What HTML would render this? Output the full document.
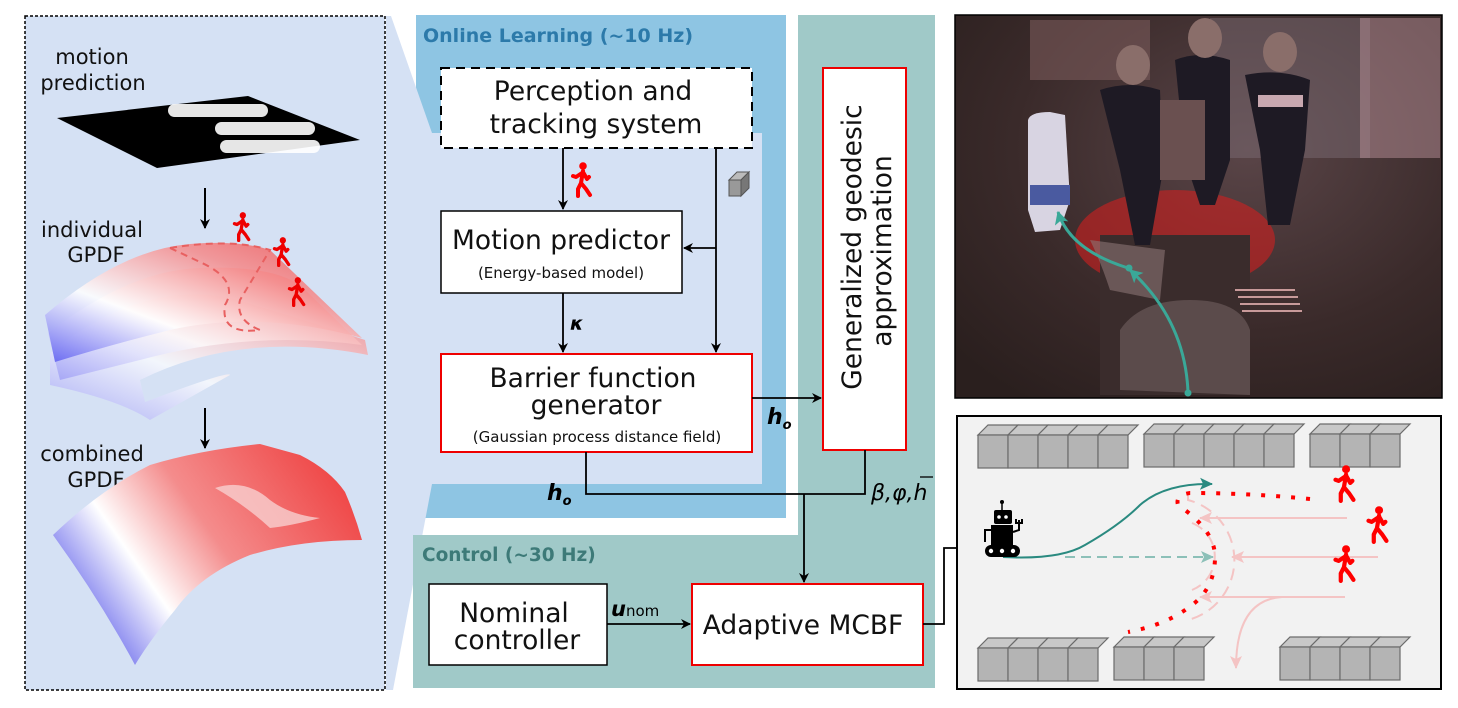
<!DOCTYPE html>
<html><head><meta charset="utf-8"><style>
html,body{margin:0;padding:0;background:#fff}
svg{display:block;font-family:"DejaVu Sans","Liberation Sans",sans-serif}
</style></head><body>
<svg width="1458" height="708" viewBox="0 0 1458 708" xmlns="http://www.w3.org/2000/svg">
<defs>
<marker id="ar" markerWidth="10" markerHeight="10" refX="9" refY="5" orient="auto" markerUnits="userSpaceOnUse"><path d="M0,0 L10,5 L0,10 L3,5 z" fill="#000"/></marker>
<marker id="art" markerWidth="14" markerHeight="12" refX="12" refY="6" orient="auto" markerUnits="userSpaceOnUse"><path d="M0,0 L13,6 L0,12 L3,6 z" fill="#2a8a80"/></marker>
<marker id="artl" markerWidth="14" markerHeight="12" refX="12" refY="6" orient="auto" markerUnits="userSpaceOnUse"><path d="M0,0 L13,6 L0,12 L3,6 z" fill="#8cc0b8"/></marker>
<marker id="arp" markerWidth="14" markerHeight="12" refX="12" refY="6" orient="auto" markerUnits="userSpaceOnUse"><path d="M0,0 L13,6 L0,12 L3,6 z" fill="#f4c4c4"/></marker>
<marker id="arg" markerWidth="14" markerHeight="14" refX="12" refY="7" orient="auto" markerUnits="userSpaceOnUse"><path d="M0,0 L13,7 L0,14 L3,7 z" fill="#3aa898"/></marker>
<linearGradient id="surf" x1="0" y1="1" x2="1" y2="0"><stop offset="0" stop-color="#5a5af0"/><stop offset="0.35" stop-color="#ffffff"/><stop offset="0.7" stop-color="#f58a8a"/><stop offset="1" stop-color="#f04848"/></linearGradient>
<linearGradient id="surf2" x1="0" y1="0.75" x2="1" y2="0.25"><stop offset="0" stop-color="#4b4be8"/><stop offset="0.3" stop-color="#ffffff"/><stop offset="0.55" stop-color="#f48c8c"/><stop offset="1" stop-color="#ef4444"/></linearGradient>
<linearGradient id="surfA" x1="0" y1="1" x2="1" y2="0"><stop offset="0" stop-color="#9a9af5" stop-opacity=".8"/><stop offset="0.4" stop-color="#ffffff" stop-opacity=".7"/><stop offset="1" stop-color="#f37070" stop-opacity=".8"/></linearGradient>
<radialGradient id="photo" cx="0.6" cy="0.35" r="0.8"><stop offset="0" stop-color="#5a4548"/><stop offset="0.6" stop-color="#3a2a2a"/><stop offset="1" stop-color="#2a1f1e"/></radialGradient>
<symbol id="walk" viewBox="0 0 24 36"><circle cx="13" cy="4" r="3.8" fill="currentColor"/><path d="M13,9 L11,21 M13,10 L17,17 L19,15 M12,11 L6,15 L3,14 M11,21 L8,27 L8,34 M11,21 L16,27 L20,33" stroke="currentColor" stroke-width="4" fill="none" stroke-linecap="round" stroke-linejoin="round"/></symbol>
<g id="box"><path d="M0,10 L10,0 L40,0 L30,10 z" fill="#c8c8c8" stroke="#6b6b6b" stroke-width="1.2"/><rect x="0" y="10" width="30" height="33" fill="#b4b4b4" stroke="#6b6b6b" stroke-width="1.2"/></g>
</defs>

<!-- LEFT PANEL -->
<rect x="25" y="16" width="360" height="674" fill="#d5e1f4" stroke="#000" stroke-width="1.5" stroke-dasharray="3,2"/>
<text x="92" y="64" font-size="21" text-anchor="middle" fill="#111">motion</text>
<text x="93" y="90" font-size="21" text-anchor="middle" fill="#111">prediction</text>
<polygon points="57,118 248,96 360,140 157,168" fill="#000"/>
<rect x="168" y="104" width="100" height="13" rx="6.5" fill="#fff" opacity=".9"/>
<rect x="215" y="122" width="100" height="13" rx="6.5" fill="#fff" opacity=".9"/>
<rect x="220" y="140" width="100" height="13" rx="6.5" fill="#fff" opacity=".9"/>
<line x1="205" y1="188" x2="205" y2="228" stroke="#000" stroke-width="2" marker-end="url(#ar)"/>
<text x="92" y="237" font-size="21" text-anchor="middle" fill="#111">individual</text>
<text x="96" y="262" font-size="21" text-anchor="middle" fill="#111">GPDF</text>
<path d="M50,353 Q140,280 230,298 Q300,318 365,340 L368,355 Q240,330 140,380 L145,402 Q230,370 230,375 L150,420 Q120,400 50,385 Z" fill="url(#surfA)"/>
<path d="M48,333 Q130,270 200,268 Q270,265 300,285 L362,345 Q250,330 140,360 L60,380 Z" fill="url(#surfA)"/>
<path d="M45,315 Q120,250 190,244 Q240,240 270,250 L362,338 Q260,310 170,330 Q110,345 55,362 Z" fill="url(#surf)" opacity=".85"/>
<path d="M170,248 Q230,238 270,250 Q255,275 240,300 Q235,320 260,330 Q220,335 225,305 Q240,280 200,262 Z" fill="none" stroke="#e86060" stroke-width="2" stroke-dasharray="7,5"/>
<use href="#walk" x="232" y="212" width="20" height="30" color="#e00"/>
<use href="#walk" x="272" y="237" width="20" height="30" color="#e00"/>
<use href="#walk" x="287" y="277" width="20" height="30" color="#e00"/>
<line x1="205" y1="408" x2="205" y2="448" stroke="#000" stroke-width="2" marker-end="url(#ar)"/>
<text x="92" y="461" font-size="21" text-anchor="middle" fill="#111">combined</text>
<text x="96" y="487" font-size="21" text-anchor="middle" fill="#111">GPDF</text>
<path d="M53,535 Q100,490 150,465 Q200,450 260,444 L300,455 Q330,470 345,492 Q355,515 362,540 Q300,540 250,555 Q200,575 175,610 Q150,640 135,665 Q100,600 53,535 Z" fill="url(#surf2)"/>
<path d="M215,488 Q245,478 270,500 Q290,515 320,518 Q290,526 270,528 Q245,505 215,488 Z" fill="#f8d0d0" opacity=".8"/>

<!-- ONLINE LEARNING -->
<rect x="416" y="15" width="370" height="503" fill="#8ec5e3"/>
<polygon points="386,16 391,16 432,133 432,484 393,690 386,690" fill="#d5e1f4"/>
<rect x="432" y="133" width="330" height="351" fill="#d5e1f4"/>
<text x="423" y="42" font-size="19" font-weight="bold" fill="#2c7aaa">Online Learning (~10 Hz)</text>

<!-- TEAL -->
<rect x="798" y="15" width="137" height="673" fill="#a0c9c8"/>
<rect x="413" y="535" width="522" height="153" fill="#a0c9c8"/>
<text x="422" y="561" font-size="18.5" font-weight="bold" fill="#3d7a78">Control (~30 Hz)</text>

<!-- boxes -->
<rect x="441" y="68" width="311" height="80" fill="#fff" stroke="#000" stroke-width="2" stroke-dasharray="9,6"/>
<text x="593" y="100" font-size="26.5" text-anchor="middle" fill="#111">Perception and</text>
<text x="596" y="133" font-size="26.5" text-anchor="middle" fill="#111">tracking system</text>

<rect x="441" y="211" width="241" height="82" fill="#fff" stroke="#000" stroke-width="1.5"/>
<text x="561" y="249" font-size="26.5" text-anchor="middle" fill="#111">Motion predictor</text>
<text x="561" y="278" font-size="15" text-anchor="middle" fill="#111">(Energy-based model)</text>

<rect x="441" y="354" width="311" height="98" fill="#fff" stroke="#e00" stroke-width="2"/>
<text x="593" y="387" font-size="26.5" text-anchor="middle" fill="#111">Barrier function</text>
<text x="596" y="414" font-size="26.5" text-anchor="middle" fill="#111">generator</text>
<text x="597" y="442" font-size="15" text-anchor="middle" fill="#111">(Gaussian process distance field)</text>

<rect x="823" y="68" width="83" height="382" fill="#fff" stroke="#e00" stroke-width="2"/>
<text transform="translate(861,247) rotate(-90)" font-size="26.5" text-anchor="middle" fill="#111">Generalized geodesic</text>
<text transform="translate(891,251) rotate(-90)" font-size="26.5" text-anchor="middle" fill="#111">approximation</text>

<rect x="429" y="584" width="178" height="81" fill="#fff" stroke="#000" stroke-width="1.5"/>
<text x="514" y="622" font-size="26.5" text-anchor="middle" fill="#111">Nominal</text>
<text x="517" y="649" font-size="26.5" text-anchor="middle" fill="#111">controller</text>

<rect x="692" y="584" width="231" height="81" fill="#fff" stroke="#e00" stroke-width="2"/>
<text x="803" y="634" font-size="26.5" text-anchor="middle" fill="#111">Adaptive MCBF</text>

<!-- connectors -->
<g stroke="#000" stroke-width="1.8" fill="none">
<line x1="563" y1="148" x2="563" y2="209" marker-end="url(#ar)"/>
<line x1="716" y1="148" x2="716" y2="352" marker-end="url(#ar)"/>
<line x1="716" y1="248" x2="684" y2="248" marker-end="url(#ar)"/>
<line x1="563" y1="293" x2="563" y2="352" marker-end="url(#ar)"/>
<line x1="752" y1="398" x2="821" y2="398" marker-end="url(#ar)"/>
<polyline points="586,452 586,494 865,494 865,450"/>
<line x1="804" y1="494" x2="804" y2="582" marker-end="url(#ar)"/>
<line x1="607" y1="624" x2="690" y2="624" marker-end="url(#ar)"/>
<polyline points="923,624 944,624 944,548 977,548" marker-end="url(#ar)"/>
</g>
<use href="#walk" x="570" y="162" width="24" height="36" color="#f00"/>
<g transform="translate(729,172)"><path d="M0,8 L8,0 L20,0 L12,8 z" fill="#bbb" stroke="#555"/><rect x="0" y="8" width="12" height="16" fill="#999" stroke="#555"/><path d="M12,8 L20,0 L20,16 L12,24 z" fill="#777" stroke="#555"/></g>
<text x="570" y="330" font-size="19" font-weight="bold" font-style="italic" fill="#000">κ</text>
<text x="767" y="424" font-size="22" font-weight="bold" font-style="italic" fill="#000">h<tspan font-size="13" dy="5">o</tspan></text>
<text x="547" y="500" font-size="22" font-weight="bold" font-style="italic" fill="#000">h<tspan font-size="13" dy="5">o</tspan></text>
<text x="871" y="500" font-size="22" font-style="italic" fill="#000">β,φ,h</text>
<line x1="920" y1="477" x2="933" y2="477" stroke="#000" stroke-width="1.3"/>
<text x="611" y="616" font-size="21" font-weight="bold" font-style="italic" fill="#000">u<tspan font-size="15" font-weight="normal" font-style="normal">nom</tspan></text>

<!-- PHOTO -->
<rect x="955" y="15" width="487" height="383" fill="url(#photo)" stroke="#000" stroke-width="1.5"/>
<rect x="1210" y="18" width="160" height="140" fill="#7a6a72" opacity=".5"/>
<rect x="1360" y="18" width="80" height="140" fill="#b89098" opacity=".5"/>
<rect x="1030" y="20" width="120" height="60" fill="#7a5a5a" opacity=".6"/>
<path d="M1028,120 Q1030,112 1050,112 L1065,115 L1070,200 L1060,230 L1035,232 L1028,210 Z" fill="#d8d4e2"/>
<rect x="1030" y="185" width="40" height="20" fill="#4a5aa0"/>
<ellipse cx="1175" cy="240" rx="100" ry="50" fill="#d02020" opacity=".6"/>
<rect x="1100" y="235" width="150" height="160" fill="#3a2c2c"/>
<path d="M1120,390 L1120,330 Q1140,300 1190,300 Q1240,300 1250,330 L1250,395 Z" fill="#6a5858" opacity=".7"/>
<path d="M1090,240 Q1100,260 1110,290 L1160,300 L1165,250 Z" fill="#8a7474" opacity=".6"/>
<g fill="#1e1a24">
<path d="M1100,90 Q1130,80 1160,90 L1163,170 L1150,245 L1135,245 L1120,170 Z"/>
<path d="M1175,60 Q1200,50 1230,60 L1230,160 L1215,205 L1200,205 L1185,160 Z"/>
<path d="M1245,75 Q1280,68 1310,80 L1305,150 L1290,225 L1268,225 L1260,150 Z"/>
</g>
<rect x="1160" y="100" width="45" height="80" fill="#6a5050"/>
<rect x="1258" y="95" width="45" height="12" fill="#c8a8b0"/>
<ellipse cx="1133" cy="65" rx="17" ry="20" fill="#8a6e6a"/>
<ellipse cx="1205" cy="38" rx="17" ry="20" fill="#8a6e6a"/>
<ellipse cx="1280" cy="52" rx="17" ry="20" fill="#8a6e6a"/>
<path d="M1235,290 L1295,290 M1238,297 L1298,297 M1240,304 L1300,304 M1242,311 L1302,311" stroke="#c89a9a" stroke-width="2"/>
<path d="M1188,392 Q1185,320 1130,270" stroke="#3aa898" stroke-width="3" fill="none" marker-end="url(#arg)"/>
<path d="M1128,268 Q1070,250 1058,212" stroke="#3aa898" stroke-width="3" fill="none" marker-end="url(#arg)"/>
<circle cx="1188" cy="393" r="3.5" fill="#3aa898"/>
<circle cx="1129" cy="268" r="3.5" fill="#3aa898"/>

<!-- MAP PANEL -->
<rect x="957" y="416" width="484" height="273" fill="#f2f2f2" stroke="#000" stroke-width="2"/>
<g>
<use href="#box" x="978" y="425"/><use href="#box" x="1008" y="425"/><use href="#box" x="1038" y="425"/><use href="#box" x="1068" y="425"/><use href="#box" x="1098" y="425"/>
<use href="#box" x="1144" y="424"/><use href="#box" x="1174" y="424"/><use href="#box" x="1204" y="424"/><use href="#box" x="1234" y="424"/><use href="#box" x="1264" y="424"/>
<use href="#box" x="1310" y="424"/><use href="#box" x="1340" y="424"/><use href="#box" x="1370" y="424"/>
<use href="#box" x="978" y="638"/><use href="#box" x="1008" y="638"/><use href="#box" x="1038" y="638"/><use href="#box" x="1068" y="638"/>
<use href="#box" x="1114" y="637"/><use href="#box" x="1144" y="637"/><use href="#box" x="1174" y="637"/>
<use href="#box" x="1280" y="637"/><use href="#box" x="1310" y="637"/><use href="#box" x="1340" y="637"/><use href="#box" x="1370" y="637"/>
</g>
<g stroke="#f4c4c4" stroke-width="2" fill="none">
<line x1="1347" y1="518" x2="1200" y2="518" marker-end="url(#arp)"/>
<line x1="1378" y1="557" x2="1232" y2="557" marker-end="url(#arp)"/>
<line x1="1345" y1="597" x2="1200" y2="597" marker-end="url(#arp)"/>
<path d="M1282,597 Q1236,600 1236,668" marker-end="url(#arp)"/>
<path d="M1188,495 L1188,500 A62,62 0 0 1 1188,620 L1188,622" stroke-dasharray="12,7"/>
<path d="M1192,523 A36,36 0 0 1 1192,590" stroke-dasharray="12,7"/>
</g>
<path d="M1065,557 L1213,557" stroke="#8cc0b8" stroke-width="2" stroke-dasharray="10,6" fill="none" marker-end="url(#artl)"/>
<path d="M1003,557 Q1060,560 1085,545 Q1120,525 1140,505 Q1165,483 1212,484" stroke="#2a8a80" stroke-width="2" fill="none" marker-end="url(#art)"/>
<path d="M1310,499 Q1250,493 1190,493 Q1175,495 1178,505 Q1215,530 1215,557 Q1215,590 1188,608 Q1165,625 1128,632" stroke="#f00" stroke-width="4" fill="none" stroke-dasharray="4,11"/>
<use href="#walk" x="1332" y="465" width="26" height="38" color="#f00"/>
<use href="#walk" x="1365" y="506" width="26" height="38" color="#f00"/>
<use href="#walk" x="1332" y="545" width="26" height="38" color="#f00"/>
<!-- robot -->
<g fill="#000">
<rect x="994" y="510" width="18" height="14" rx="2"/><circle cx="1002" cy="502" r="2"/><line x1="1002" y1="502" x2="1002" y2="510" stroke="#000" stroke-width="1.5"/>
<circle cx="999" cy="517" r="1.8" fill="#fff"/><circle cx="1006" cy="517" r="1.8" fill="#fff"/>
<rect x="991" y="525" width="22" height="20"/>
<path d="M991,530 L985,530 L985,542" stroke="#000" stroke-width="2" fill="none"/>
<path d="M1013,532 L1019,530 L1019,520 M1016,519 L1016,523 L1022,523 L1022,519" stroke="#000" stroke-width="2" fill="none"/>
<rect x="985" y="545" width="35" height="12" rx="6"/>
<circle cx="991" cy="551" r="2.2" fill="#fff"/><circle cx="1002" cy="551" r="2.2" fill="#fff"/><circle cx="1013" cy="551" r="2.2" fill="#fff"/>
</g>
</svg>
</body></html>
